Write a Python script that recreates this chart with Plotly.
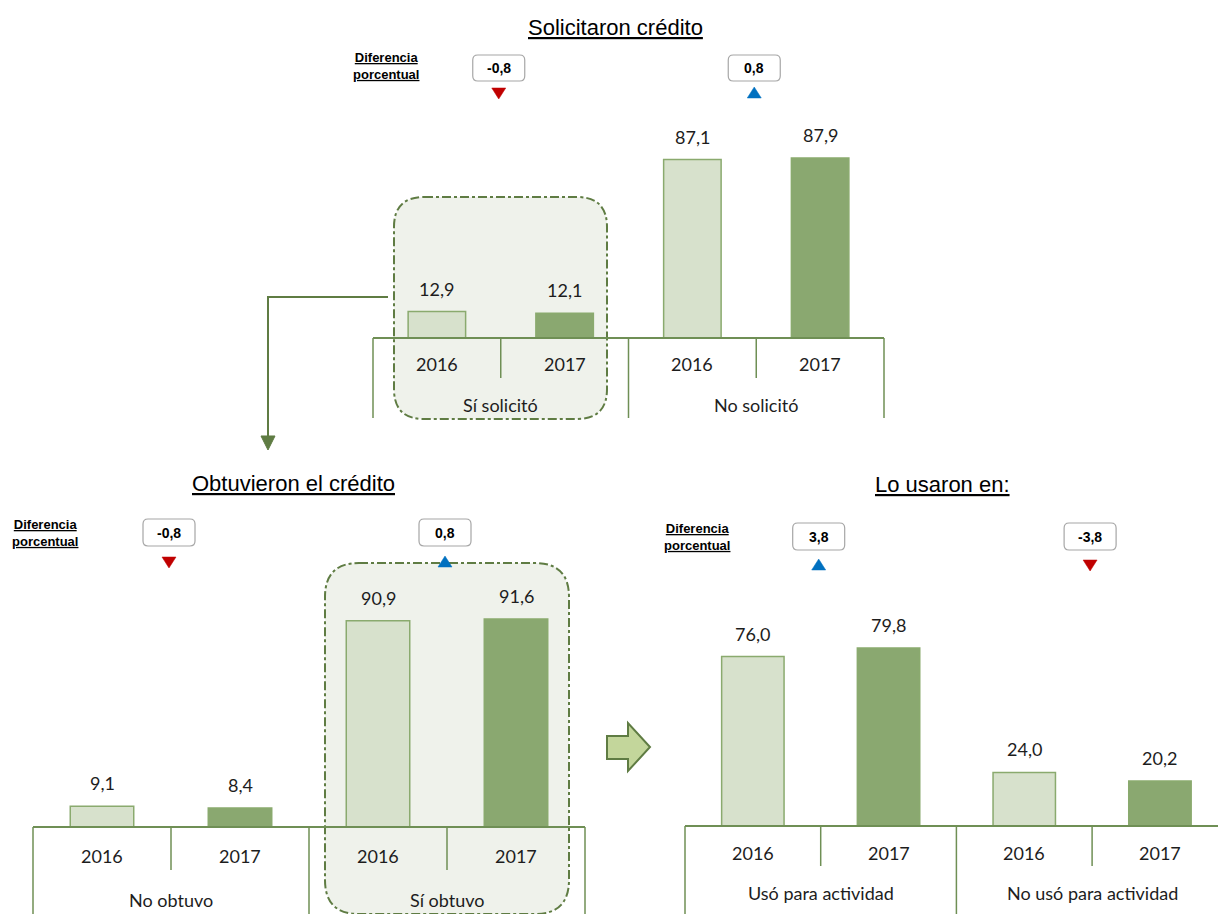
import plotly.graph_objects as go

W, H = 1218, 914

# ---------------- data ----------------
years = ["2016", "2017"]

sol_title = "Solicitaron crédito"
sol_groups = ["Sí solicitó", "No solicitó"]
sol_2016 = [12.9, 87.1]
sol_2017 = [12.1, 87.9]
sol_diff = [-0.8, 0.8]

obt_title = "Obtuvieron el crédito"
obt_groups = ["No obtuvo", "Sí obtuvo"]
obt_2016 = [9.1, 90.9]
obt_2017 = [8.4, 91.6]
obt_diff = [-0.8, 0.8]

uso_title = "Lo usaron en:"
uso_groups = ["Usó para actividad", "No usó para actividad"]
uso_2016 = [76.0, 24.0]
uso_2017 = [79.8, 20.2]
uso_diff = [3.8, -3.8]

diff_label = "Diferencia porcentual"

# ---------------- styles ----------------
C_2016 = "#d7e1cc"
C_2017 = "#8aa870"
C_BAR_LINE = "#8aaa6e"
C_AXIS = "#6f8f55"
C_BOX_LINE = "#5f7c43"
C_BOX_FILL = "#eff2eb"
C_UP = "#0070c0"
C_DOWN = "#c00000"
C_TEXT = "#1d1d1d"
F_NUM = "Lato, Carlito, Calibri, Noto Sans, sans-serif"
F_NARROW = "Liberation Sans Narrow, Arial Narrow, Liberation Sans, Arial, sans-serif"


def px(x):
    return x / W


def py(y):
    return 1 - y / H


def rrect(x0, y0, x1, y1, r):
    """Rounded rectangle path in paper units from pixel corners."""
    pts = [
        ("M", (x0 + r, y0)), ("L", (x1 - r, y0)), ("Q", (x1, y0), (x1, y0 + r)),
        ("L", (x1, y1 - r)), ("Q", (x1, y1), (x1 - r, y1)),
        ("L", (x0 + r, y1)), ("Q", (x0, y1), (x0, y1 - r)),
        ("L", (x0, y0 + r)), ("Q", (x0, y0), (x0 + r, y0)),
    ]
    out = []
    for item in pts:
        cmd = item[0]
        coords = " ".join(f"{px(a):.5f},{py(b):.5f}" for a, b in item[1:])
        out.append(f"{cmd} {coords}")
    return " ".join(out) + " Z"


def poly(points):
    return "M " + " L ".join(f"{px(a):.5f},{py(b):.5f}" for a, b in points) + " Z"


def line_path(points):
    return "M " + " L ".join(f"{px(a):.5f},{py(b):.5f}" for a, b in points)


# panel geometry (pixels): left edge, slot width, baseline, px per unit
panels = [
    dict(title=sol_title, groups=sol_groups, v16=sol_2016, v17=sol_2017, diff=sol_diff,
         left=373, slot=127.75, base=338, scale=2.048, short=40, long=80,
         year_off=26, group_off=67, title_xy=(615, 28), diff_y=(55, 81), tri_y=93,
         lbl_xy=(386, 66), bw=0.45),
    dict(title=obt_title, groups=obt_groups, v16=obt_2016, v17=obt_2017, diff=obt_diff,
         left=33, slot=138, base=827, scale=2.27, short=43, long=90,
         year_off=29, group_off=73, title_xy=(293, 483), diff_y=(519, 546), tri_y=562,
         lbl_xy=(45, 533), bw=0.46),
    dict(title=uso_title, groups=uso_groups, v16=uso_2016, v17=uso_2017, diff=uso_diff,
         left=685, slot=135.7, base=826, scale=2.23, short=40, long=90,
         year_off=27, group_off=67, title_xy=(942, 484), diff_y=(523, 550), tri_y=565,
         lbl_xy=(697, 537), bw=0.46),
]

fig = go.Figure()
shapes = []
annotations = []

# highlight boxes and connectors, drawn beneath the bars
shapes.append(dict(type="path", xref="paper", yref="paper", layer="below",
                   path=rrect(394, 197, 607, 419, 30),
                   fillcolor=C_BOX_FILL, line=dict(color=C_BOX_LINE, width=2, dash="dashdot")))
shapes.append(dict(type="path", xref="paper", yref="paper", layer="below",
                   path=rrect(325, 563, 569, 914, 34),
                   fillcolor=C_BOX_FILL, line=dict(color=C_BOX_LINE, width=2, dash="dashdot")))
shapes.append(dict(type="path", xref="paper", yref="paper",
                   path=line_path([(388, 297), (268, 297), (268, 437)]),
                   line=dict(color=C_BOX_LINE, width=2)))
shapes.append(dict(type="path", xref="paper", yref="paper",
                   path=poly([(261, 436), (275, 436), (268, 450)]),
                   fillcolor=C_BOX_LINE, line=dict(color=C_BOX_LINE, width=1)))
shapes.append(dict(type="path", xref="paper", yref="paper",
                   path=poly([(607, 736), (628, 736), (628, 723), (650, 747),
                              (628, 771), (628, 759), (607, 759)]),
                   fillcolor="#c3d69b", line=dict(color=C_BOX_LINE, width=2)))

for i, p in enumerate(panels):
    n = "" if i == 0 else str(i + 1)
    xa, ya = "x" + n, "y" + n
    left, slot, base, scale = p["left"], p["slot"], p["base"], p["scale"]

    r0 = max(-0.2, -left / slot)
    r1 = min(4.2, (W - left) / slot)
    low_px = min(H - base, 95)
    y0 = -low_px / scale
    y1 = 100
    fig.layout["xaxis" + n] = dict(domain=[max(0, px(left + r0 * slot)), min(1, px(left + r1 * slot))],
                                   range=[r0, r1], visible=False, anchor=ya, fixedrange=True)
    fig.layout["yaxis" + n] = dict(domain=[max(0, py(base + low_px)), py(base - y1 * scale)],
                                   range=[y0, y1], visible=False, anchor=xa, fixedrange=True)

    pos16 = [2 * g + 0.5 for g in range(len(p["groups"]))]
    pos17 = [2 * g + 1.5 for g in range(len(p["groups"]))]
    for pos, vals, col, yr in ((pos16, p["v16"], C_2016, years[0]),
                               (pos17, p["v17"], C_2017, years[1])):
        fig.add_trace(go.Bar(x=pos, y=vals, width=p["bw"], name=yr, xaxis=xa, yaxis=ya,
                             marker=dict(color=col, line=dict(color=C_BAR_LINE, width=1.5)),
                             hoverinfo="skip"))
        for xv, v in zip(pos, vals):
            annotations.append(dict(xref=xa, yref=ya, x=xv, y=v, xanchor="center",
                                    yanchor="bottom", yshift=10, showarrow=False,
                                    text=f"{v:.1f}".replace(".", ","),
                                    font=dict(family=F_NUM, size=18, color=C_TEXT)))
        for xv in pos:
            annotations.append(dict(xref=xa, yref=ya, x=xv, y=-p["year_off"] / scale,
                                    xanchor="center", yanchor="middle",
                                    showarrow=False, text=yr,
                                    font=dict(family=F_NUM, size=18, color=C_TEXT)))

    # baseline and category dividers
    shapes.append(dict(type="line", xref=xa, yref=ya, x0=0, x1=4, y0=0, y1=0,
                       line=dict(color=C_AXIS, width=2)))
    for k in range(5):
        depth = p["short"] if k % 2 else p["long"]
        shapes.append(dict(type="line", xref=xa, yref=ya, x0=k, x1=k, y0=0,
                           y1=-depth / scale, line=dict(color=C_AXIS, width=1.5)))

    for g, name in enumerate(p["groups"]):
        annotations.append(dict(xref=xa, yref=ya, x=2 * g + 1, y=-p["group_off"] / scale,
                                xanchor="center", yanchor="middle",
                                showarrow=False, text=name,
                                font=dict(family=F_NUM, size=18, color=C_TEXT)))

        # percentage-point change between years
        d = p["diff"][g]
        cx = left + (2 * g + 1) * slot - 2
        by0, by1 = p["diff_y"]
        shapes.append(dict(type="path", xref="paper", yref="paper",
                           path=rrect(cx - 26, by0, cx + 26, by1, 5),
                           fillcolor="white", line=dict(color="#a6a6a6", width=1.2)))
        annotations.append(dict(xref="paper", yref="paper", x=px(cx), y=py((by0 + by1) / 2),
                                xanchor="center", yanchor="middle",
                                showarrow=False, text=f"<b>{d:.1f}</b>".replace(".", ","),
                                font=dict(family=F_NARROW, size=14, color="black")))
        ty = p["tri_y"]
        if d >= 0:
            tri = [(cx - 7, ty + 5), (cx + 7, ty + 5), (cx, ty - 6)]
            tc = C_UP
        else:
            tri = [(cx - 7, ty - 5), (cx + 7, ty - 5), (cx, ty + 6)]
            tc = C_DOWN
        shapes.append(dict(type="path", xref="paper", yref="paper", path=poly(tri),
                           fillcolor=tc, line=dict(color=tc, width=0.5)))

    tx, ty = p["title_xy"]
    annotations.append(dict(xref="paper", yref="paper", x=px(tx), y=py(ty),
                            xanchor="center", yanchor="middle",
                            showarrow=False, text=f"<u>{p['title']}</u>",
                            font=dict(family=F_NARROW, size=22, color="black")))
    lx, ly = p["lbl_xy"]
    w1, w2 = diff_label.split(" ")
    annotations.append(dict(xref="paper", yref="paper", x=px(lx), y=py(ly),
                            xanchor="center", yanchor="middle",
                            showarrow=False, align="center",
                            text=f"<b><u>{w1}</u></b><br><b><u>{w2}</u></b>",
                            font=dict(family=F_NARROW, size=13, color="black")))

fig.update_layout(width=W, height=H, margin=dict(l=0, r=0, t=0, b=0),
                  paper_bgcolor="white", plot_bgcolor="rgba(0,0,0,0)",
                  showlegend=False, separators=",.", barmode="overlay",
                  shapes=shapes, annotations=annotations)

fig.write_html("out.html")
